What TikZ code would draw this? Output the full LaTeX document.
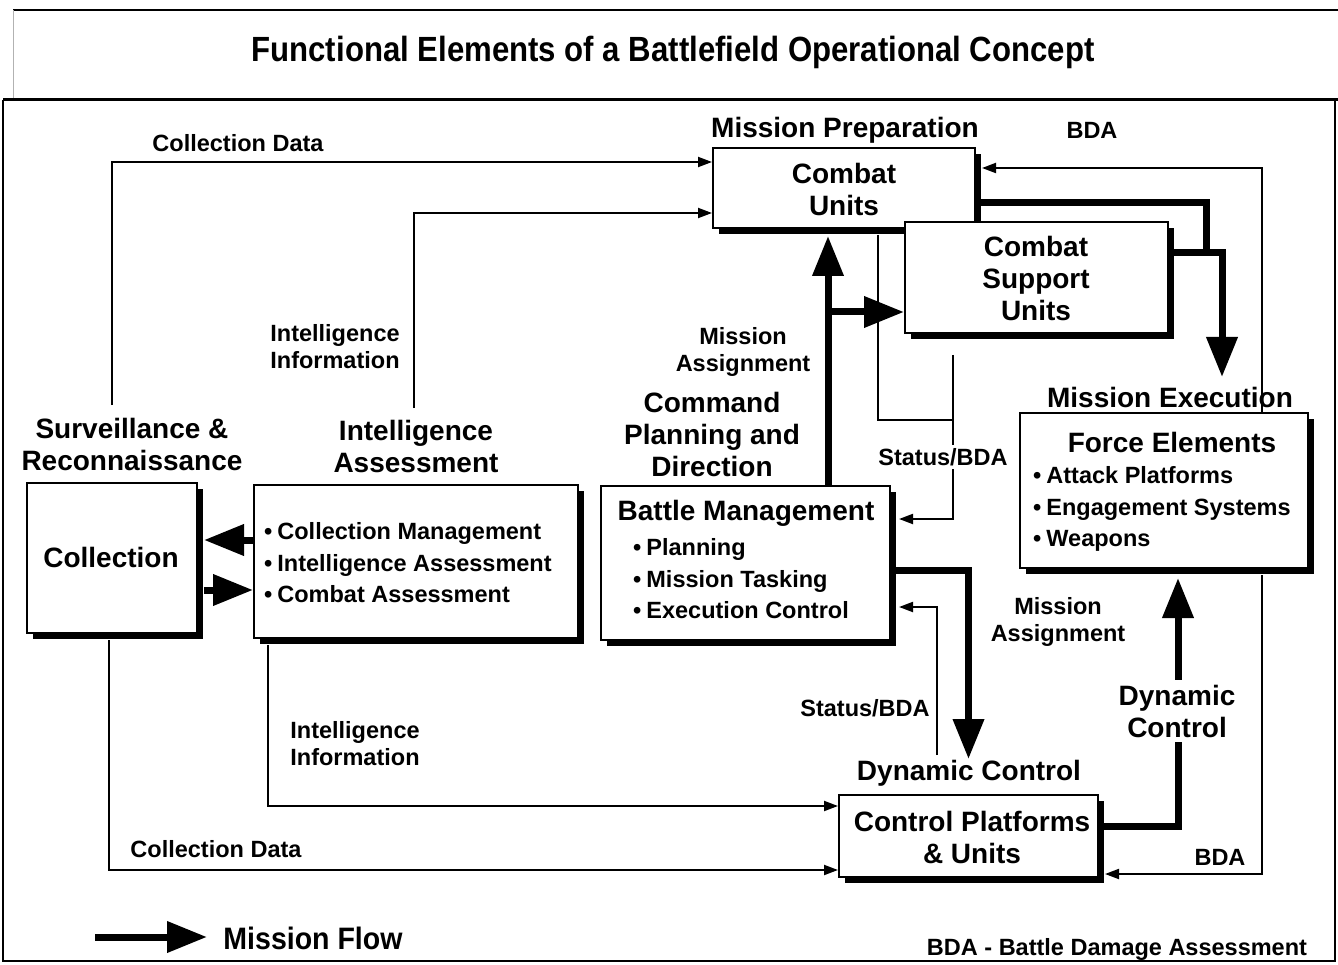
\documentclass[tikz,border=0pt]{standalone}
\usepackage{fontspec}
\usepackage{graphicx}
\setmainfont{Liberation Sans}
\usetikzlibrary{arrows.meta,shadows}
\begin{document}
\begin{tikzpicture}[x=1pt,y=-1pt,
  box/.style={draw=black, line width=2pt, fill=white, inner sep=0pt,
    drop shadow={shadow xshift=6pt, shadow yshift=-6pt, opacity=1, fill=black}},
  big/.style={font=\bfseries\fontsize{28}{32}\selectfont, align=center, inner sep=0pt},
  small/.style={font=\bfseries\fontsize{23.5}{27}\selectfont, align=center, inner sep=0pt},
  bul/.style={font=\bfseries\fontsize{23.5}{31.5}\selectfont, align=left, inner sep=0pt, anchor=west},
  thinline/.style={draw=black, line width=2pt},
  thinarr/.style={draw=black, line width=2pt, -{Triangle[width=10pt,length=14pt]}},
  thickline/.style={draw=black, line width=7pt},
  thickarr/.style={draw=black, line width=7pt, -{Triangle[width=30pt,length=40pt]}}
]
\useasboundingbox (0,0) rectangle (1338,965);
% frame
\draw[line width=2pt] (13,10) -- (1338,10);
\draw[line width=1pt, gray!60] (13,10) -- (13,100);
\draw[line width=3pt] (3,100) -- (1338,100);
\draw[line width=2pt] (3,100) -- (3,961) -- (1335,961) -- (1335,100);
\node[font=\bfseries\fontsize{35}{40}\selectfont, inner sep=0pt] (title) at (673,52)
  {\scalebox{0.89}[1]{Functional Elements of a Battlefield Operational Concept}};

% boxes
\node[box, minimum width=262pt, minimum height=80pt] (CU) at (844,188) {};
\node[box, minimum width=263pt, minimum height=111pt] (CSU) at (1036.5,277.5) {};
\node[box, minimum width=288pt, minimum height=155pt] (FE) at (1164,490.5) {};
\node[box, minimum width=170pt, minimum height=150pt] (Coll) at (112,558) {};
\node[box, minimum width=324pt, minimum height=153pt] (IA) at (416,561.5) {};
\node[box, minimum width=289pt, minimum height=154pt] (BM) at (745.5,563) {};
\node[box, minimum width=259pt, minimum height=82pt] (CP) at (968.5,836) {};

% thin connectors
\coordinate (cdtop) at (112,405);
\draw[thinarr] (cdtop) |- ([yshift=26pt]CU.west);
\coordinate (iitop) at (414,408);
\draw[thinarr] (iitop) |- ([yshift=-25pt]CU.west);
\draw[thinarr] ([xshift=98pt]FE.north) |- ([xshift=6pt,yshift=20pt]CU.east);
\draw[thinarr] ([xshift=98pt,yshift=-6pt]FE.south) |- ([xshift=6pt,yshift=-38pt]CP.east);
\coordinate (sbj) at (953,420);
\draw[thinline] ([xshift=34pt,yshift=-6pt]CU.south) |- (sbj);
\coordinate (sbtop) at (953,355);
\draw[thinarr] (sbtop) |- ([xshift=8pt,yshift=44pt]BM.east);
\coordinate (sblow) at (937,755);
\draw[thinarr] (sblow) |- ([xshift=8pt,yshift=-44pt]BM.east);
\draw[thinarr] ([xshift=-148pt,yshift=-6pt]IA.south) |- ([yshift=30pt]CP.west);
\draw[thinarr] ([xshift=-3pt,yshift=-6pt]Coll.south) |- ([yshift=-34pt]CP.west);

% thick connectors (mission flow)
\draw[thickarr] ([yshift=21.5pt]IA.west) -- ([xshift=6pt,yshift=18pt]Coll.east);
\draw[thickarr] ([xshift=6pt,yshift=-32pt]Coll.east) -- ([yshift=-28.5pt]IA.west);
\draw[thickarr] ([xshift=82.5pt]BM.north) -- ([xshift=-16pt,yshift=-7pt]CU.south);
\coordinate (br) at (828,312);
\draw[thickarr] (br) -- ([yshift=-34.5pt]CSU.west);
\draw[thickarr] ([yshift=-7pt]BM.east) -| ([yshift=35pt]CP.north);
\coordinate (jn) at (1206,256);
\draw[thickline] ([yshift=-15pt]CU.east) -| (jn);
\draw[thickarr] ([yshift=24.5pt]CSU.east) -| ([xshift=58pt,yshift=35pt]FE.north);
\draw[thickarr] ([yshift=10pt]CP.east) -| ([xshift=14pt,yshift=-9pt]FE.south);

% box texts
\node[big] (tCU) at (844,189) {Combat\\Units};
\node[big] (tCSU) at (1036,278) {Combat\\Support\\Units};
\node[big] (tColl) at (111,557) {Collection};
\node[bul] (tIA) at (264,563) {\textbullet\hspace{5pt}Collection Management\\\textbullet\hspace{5pt}Intelligence Assessment\\\textbullet\hspace{5pt}Combat Assessment};
\node[big] (tBM) at (746,513) {Battle Management};
\node[bul] (tBMb) at (633,579) {\textbullet\hspace{5pt}Planning\\\textbullet\hspace{5pt}Mission Tasking\\\textbullet\hspace{5pt}Execution Control};
\node[big] (tFE) at (1172,442) {Force Elements};
\node[bul] (tFEb) at (1033,509) {\textbullet\hspace{5pt}Attack Platforms\\\textbullet\hspace{5pt}Engagement Systems\\\textbullet\hspace{5pt}Weapons};
\node[big] (tCP) at (972,837) {Control Platforms\\\& Units};

% labels
\node[big] (lMP) at (845,130) {Mission Preparation};
\node[small] (lBDA1) at (1092,130) {BDA};
\node[small] (lCD1) at (238,143) {Collection Data};
\node[small] (lII1) at (335,347) {Intelligence\\Information};
\node[small] (lMA1) at (743,352) {Mission\\Assignment};
\node[big] (lCPD) at (712,434) {Command\\Planning and\\Direction};
\node[big] (lSR) at (132,444) {Surveillance \&\\Reconnaissance};
\node[big] (lIAs) at (416,446) {Intelligence\\Assessment};
\node[small, fill=white, inner sep=3pt] (lSB1) at (943,457) {Status/BDA};
\node[big] (lME) at (1170,397) {Mission Execution};
\node[small] (lMA2) at (1058,622) {Mission\\Assignment};
\node[small] (lSB2) at (865,708) {Status/BDA};
\node[big, fill=white, inner sep=5pt] (lDC2) at (1177,711) {Dynamic\\Control};
\node[big] (lDC) at (969,773) {Dynamic Control};
\node[small, align=left] (lII2) at (355,744) {Intelligence\\Information};
\node[small] (lCD2) at (216,849) {Collection Data};
\node[small] (lBDA2) at (1220,857) {BDA};

% legend
\coordinate (lg1) at (95,937);
\coordinate (lg2) at (207,937);
\draw[thickarr] (lg1) -- (lg2);
\node[font=\bfseries\fontsize{31}{36}\selectfont, inner sep=0pt] (lMF) at (313,938) {\scalebox{0.92}[1]{Mission Flow}};
\node[small] (lBDAkey) at (1117,949) {BDA - Battle Damage Assessment};
\end{tikzpicture}
\end{document}
